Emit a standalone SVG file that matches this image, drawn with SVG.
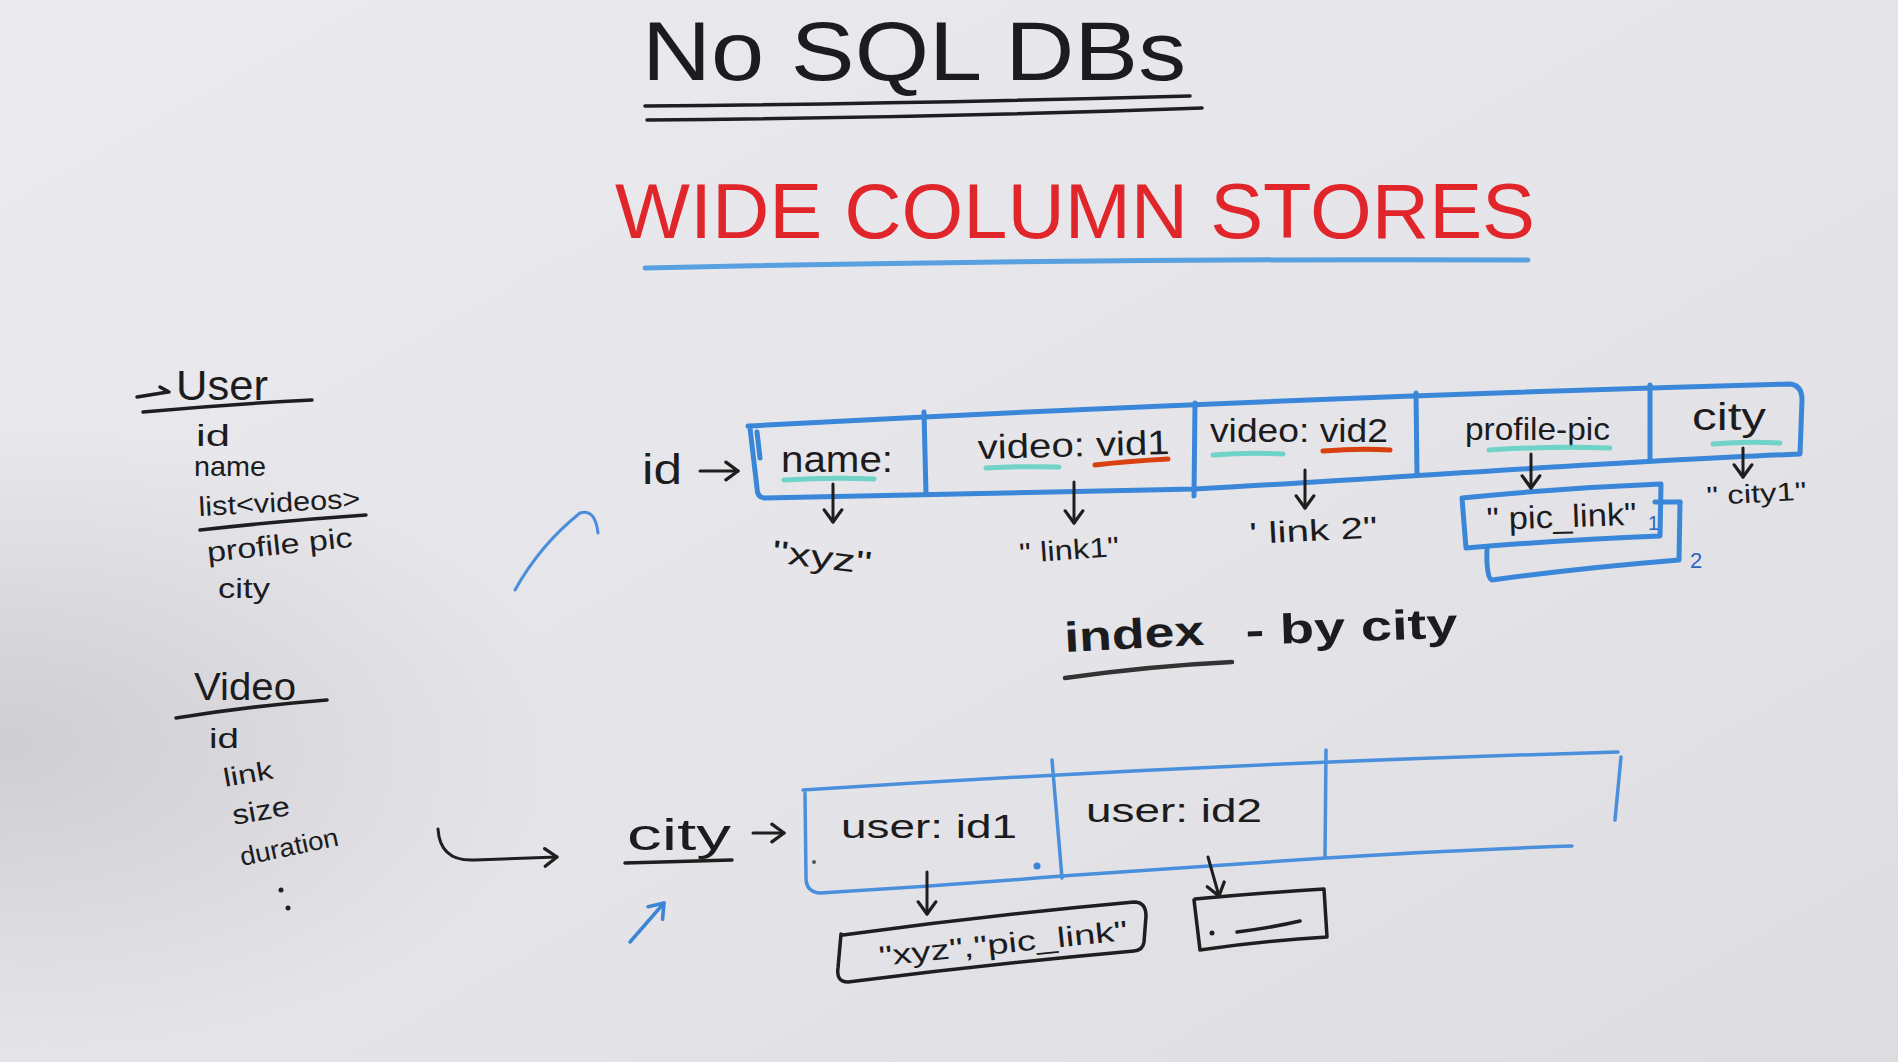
<svg xmlns="http://www.w3.org/2000/svg" width="1898" height="1062" viewBox="0 0 1898 1062">
<defs>
<linearGradient id="bg" x1="0" y1="0" x2="1" y2="1">
<stop offset="0" stop-color="#ebeaee"/>
<stop offset="0.55" stop-color="#e5e4e8"/>
<stop offset="1" stop-color="#dddce1"/>
</linearGradient>
<radialGradient id="shade" cx="0" cy="0.7" r="0.3">
<stop offset="0" stop-color="#c9c7cb" stop-opacity="0.8"/>
<stop offset="1" stop-color="#c9c7cb" stop-opacity="0"/>
</radialGradient>
<marker id="ah" viewBox="0 0 20 20" refX="17" refY="10" markerWidth="22" markerHeight="22" markerUnits="userSpaceOnUse" orient="auto">
<path d="M6,2 L17,10 L6,18" fill="none" stroke="#1e1e1e" stroke-width="3" stroke-linecap="round" stroke-linejoin="round"/>
</marker>
<marker id="ahb" viewBox="0 0 20 20" refX="16" refY="10" markerWidth="24" markerHeight="24" markerUnits="userSpaceOnUse" orient="auto">
<path d="M5,2 L16,10 L5,18" fill="none" stroke="#3d86d6" stroke-width="3" stroke-linecap="round" stroke-linejoin="round"/>
</marker>
</defs>
<style>
.hand{font-family:"Liberation Sans","DejaVu Sans",sans-serif;fill:#1c1c1e;}
.red{font-family:"Liberation Sans","DejaVu Sans",sans-serif;fill:#e1262b;}
.blue{fill:none;stroke:#3a86d8;stroke-width:5;stroke-linecap:round;stroke-linejoin:round;}
.bluethin{fill:none;stroke:#4a8fdc;stroke-width:3.5;stroke-linecap:round;stroke-linejoin:round;}
.ink{fill:none;stroke:#1e1e1e;stroke-width:3.5;stroke-linecap:round;stroke-linejoin:round;}
.teal{fill:none;stroke:#62d2c3;stroke-width:5;stroke-linecap:round;opacity:0.9;}
.orange{fill:none;stroke:#d8400f;stroke-width:5;stroke-linecap:round;}
.arrow{fill:none;stroke:#1e1e1e;stroke-width:3;stroke-linecap:round;marker-end:url(#ah);}
</style>
<rect width="1898" height="1062" fill="url(#bg)"/>
<rect width="1898" height="1062" fill="url(#shade)"/>

<g id="title">
<text class="hand" x="642" y="80" font-size="84" textLength="544" lengthAdjust="spacingAndGlyphs">No SQL  DBs</text>
<path class="ink" stroke-width="4.5" d="M645,106 Q900,104 1190,96"/>
<path class="ink" stroke-width="4.5" d="M647,120 Q930,118 1202,108"/>
</g>

<g id="subtitle">
<text class="red" x="615" y="238" font-size="78" textLength="920" lengthAdjust="spacingAndGlyphs">WIDE  COLUMN  STORES</text>
<path d="M645,268 Q1100,258 1528,260" fill="none" stroke="#58a0e0" stroke-width="5" stroke-linecap="round"/>
</g>

<g id="user-schema">
<path class="ink" d="M137,397 L168,392 M160,387 L169,392"/>
<text class="hand" x="176" y="400" font-size="42" textLength="92" lengthAdjust="spacingAndGlyphs">User</text>
<path class="ink" d="M143,412 Q230,404 312,400"/>
<text class="hand" x="196" y="446" font-size="30" textLength="34" lengthAdjust="spacingAndGlyphs">id</text>
<text class="hand" x="194" y="476" font-size="28" textLength="72" lengthAdjust="spacingAndGlyphs">name</text>
<text class="hand" x="199" y="516" font-size="27" textLength="162" lengthAdjust="spacingAndGlyphs" transform="rotate(-3 199 516)">list&lt;videos&gt;</text>
<path class="ink" d="M200,530 Q290,520 366,515"/>
<text class="hand" x="208" y="562" font-size="28" textLength="146" lengthAdjust="spacingAndGlyphs" transform="rotate(-6 208 562)">profile pic</text>
<text class="hand" x="218" y="598" font-size="28" textLength="52" lengthAdjust="spacingAndGlyphs">city</text>
</g>

<g id="video-schema">
<text class="hand" x="194" y="700" font-size="38" textLength="102" lengthAdjust="spacingAndGlyphs">Video</text>
<path class="ink" d="M176,718 Q250,706 327,700"/>
<text class="hand" x="209" y="748" font-size="28" textLength="30" lengthAdjust="spacingAndGlyphs">id</text>
<text class="hand" x="225" y="787" font-size="26" textLength="50" lengthAdjust="spacingAndGlyphs" transform="rotate(-10 225 787)">link</text>
<text class="hand" x="234" y="825" font-size="28" textLength="58" lengthAdjust="spacingAndGlyphs" transform="rotate(-10 234 825)">size</text>
<text class="hand" x="242" y="866" font-size="26" textLength="100" lengthAdjust="spacingAndGlyphs" transform="rotate(-12 242 866)">duration</text>
<circle cx="281" cy="890" r="2.5" fill="#1e1e1e"/>
<circle cx="288" cy="908" r="2.5" fill="#1e1e1e"/>
</g>

<g id="user-row">
<text class="hand" x="642" y="484" font-size="42" textLength="40" lengthAdjust="spacingAndGlyphs">id</text>
<path class="blue" d="M748,426 Q1270,398 1788,384 Q1802,384 1802,400 L1800,454 C1600,462 1400,478 1195,489 Q980,494 764,498 Q757,497 757,488 L750,428"/>
<path class="blue" d="M757,432 L760,458"/>
<path class="blue" d="M924,412 L926,494"/>
<path class="blue" d="M1195,403 L1194,496"/>
<path class="blue" d="M1416,393 L1417,475"/>
<path class="blue" d="M1650,385 L1650,458"/>
<text class="hand" x="781" y="472" font-size="36" textLength="112" lengthAdjust="spacingAndGlyphs">name:</text>
<path class="teal" d="M784,480 Q830,477 874,479"/>
<text class="hand" x="978" y="459" font-size="34" textLength="192" lengthAdjust="spacingAndGlyphs" transform="rotate(-1.5 978 459)">video: vid1</text>
<path class="teal" d="M986,468 Q1020,466 1059,467"/>
<path class="orange" d="M1095,465 Q1130,461 1168,459"/>
<text class="hand" x="1210" y="442" font-size="34" textLength="178" lengthAdjust="spacingAndGlyphs">video: vid2</text>
<path class="teal" d="M1213,455 Q1250,452 1283,454"/>
<path class="orange" d="M1323,451 Q1360,448 1390,450"/>
<text class="hand" x="1465" y="440" font-size="32" textLength="145" lengthAdjust="spacingAndGlyphs">profile-pic</text>
<path class="teal" d="M1489,450 Q1550,446 1610,448"/>
<text class="hand" x="1692" y="430" font-size="38" textLength="74" lengthAdjust="spacingAndGlyphs">city</text>
<path class="teal" d="M1713,444 Q1745,441 1780,443"/>
</g>

<g id="user-values">
<text class="hand" x="771" y="562" font-size="32" textLength="100" lengthAdjust="spacingAndGlyphs" transform="rotate(7 771 562)">"xyz"</text>
<text class="hand" x="1020" y="563" font-size="28" textLength="100" lengthAdjust="spacingAndGlyphs" transform="rotate(-4 1020 563)">" link1"</text>
<text class="hand" x="1250" y="544" font-size="30" textLength="128" lengthAdjust="spacingAndGlyphs" transform="rotate(-3 1250 544)">' link 2"</text>
<text class="hand" x="1707" y="505" font-size="26" textLength="100" lengthAdjust="spacingAndGlyphs" transform="rotate(-3 1707 505)">" city1"</text>
</g>

<g id="pic-link-box">
<path class="blue" d="M1680,502 L1679,560 Q1580,568 1492,580 Q1486,578 1487,548"/>
<path class="blue" d="M1655,502 L1680,502"/>
<path class="blue" d="M1462,498 Q1560,488 1661,484 L1660,536 Q1560,540 1466,548 L1462,498"/>
<text class="hand" x="1487" y="530" font-size="32" textLength="150" lengthAdjust="spacingAndGlyphs" transform="rotate(-2 1487 530)">" pic_link"</text>
<text class="hand" x="1648" y="530" font-size="20" style="fill:#2c63c0">1</text>
<text class="hand" x="1690" y="568" font-size="22" style="fill:#2c63c0">2</text>
</g>

<text class="hand" x="1065" y="652" font-size="42" font-weight="bold" textLength="140" lengthAdjust="spacingAndGlyphs" id="index-label" transform="rotate(-3 1065 652)">index</text>
<g id="index-caption">
<path d="M1065,678 Q1150,666 1232,662" fill="none" stroke="#333" stroke-width="4.5" stroke-linecap="round"/>
<text class="hand" x="1246" y="645" font-size="42" font-weight="bold" textLength="212" lengthAdjust="spacingAndGlyphs" transform="rotate(-2 1246 645)">- by city</text>
</g>

<g id="city-row">
<text class="hand" x="627" y="850" font-size="44" textLength="104" lengthAdjust="spacingAndGlyphs">city</text>
<path class="ink" d="M625,863 L732,860"/>
<path class="bluethin" d="M803,790 Q1200,764 1618,752"/>
<path class="bluethin" d="M1621,757 L1615,820"/>
<path class="bluethin" d="M805,793 L806,878 Q806,892 820,893 Q940,886 1062,876 Q1200,866 1326,858 Q1450,850 1572,846"/>
<path class="bluethin" d="M1052,760 L1062,878"/>
<path class="bluethin" d="M1326,750 L1325,857"/>
<text class="hand" x="841" y="838" font-size="34" textLength="176" lengthAdjust="spacingAndGlyphs">user: id1</text>
<text class="hand" x="1086" y="822" font-size="34" textLength="176" lengthAdjust="spacingAndGlyphs">user: id2</text>
<circle cx="1037" cy="866" r="3.5" fill="#3a86d8"/>
<circle cx="814" cy="862" r="2" fill="#555"/>
</g>

<g id="city-value-1">
<path class="ink" d="M843,935 Q990,915 1134,902 Q1146,902 1146,916 L1144,942 Q1143,950 1134,951 Q990,964 848,982 Q836,982 838,968 L841,934"/>
<text class="hand" x="880" y="966" font-size="28" textLength="250" lengthAdjust="spacingAndGlyphs" transform="rotate(-6 880 966)">"xyz","pic_link"</text>
</g>

<g id="city-value-2">
<path class="ink" d="M1195,899 Q1260,893 1324,889 L1327,937 Q1260,941 1200,950 L1194,900"/>
<circle cx="1212" cy="933" r="2.5" fill="#1e1e1e"/>
<path class="ink" d="M1237,932 Q1270,928 1300,921"/>
</g>

<g id="connectors">
<path class="arrow" d="M700,471 L738,471"/>
<path class="arrow" d="M833,484 L833,522"/>
<path class="arrow" d="M1074,482 L1074,523"/>
<path class="arrow" d="M1305,470 L1305,508"/>
<path class="arrow" d="M1531,454 L1531,488"/>
<path class="arrow" d="M1743,448 L1743,477"/>
<path class="arrow" d="M438,829 Q440,862 475,860 L557,857"/>
<path class="arrow" d="M753,833 L784,833"/>
<path class="arrow" d="M927,872 L927,914"/>
<path class="arrow" d="M1208,857 L1219,896"/>
<path d="M515,590 Q540,545 580,513 Q595,508 598,533" fill="none" stroke="#4a8fdc" stroke-width="3" stroke-linecap="round"/>
<path d="M630,942 L664,903" fill="none" stroke="#3d86d6" stroke-width="3.5" stroke-linecap="round" marker-end="url(#ahb)"/>
</g>
</svg>
